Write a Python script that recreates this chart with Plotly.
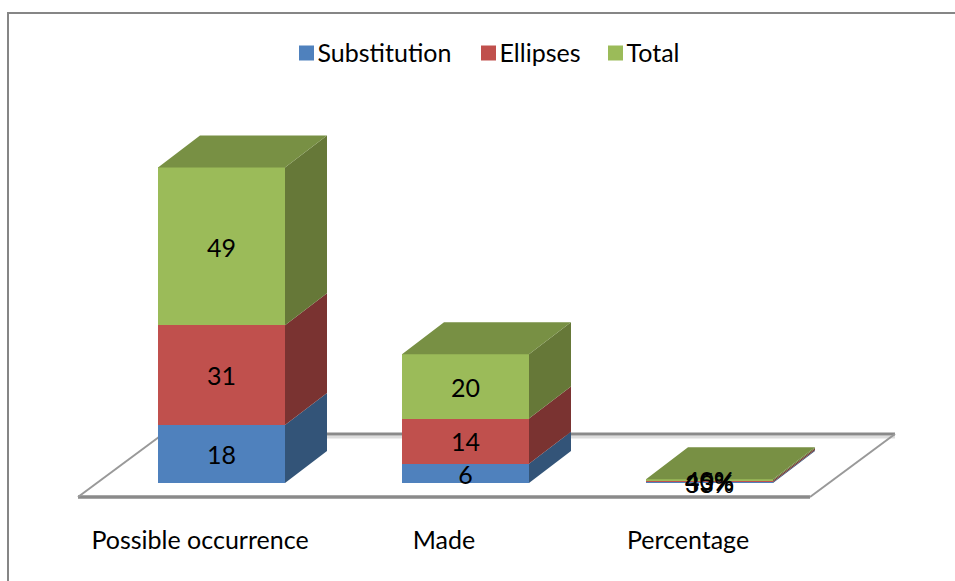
import plotly.graph_objects as go

categories = ["Possible occurrence", "Made", "Percentage"]
substitution = [18, 6, 0.33]
ellipses = [31, 14, 0.45]
total = [49, 20, 0.40]
substitution_labels = ["18", "6", "33%"]
ellipses_labels = ["31", "14", "45%"]
total_labels = ["49", "20", "40%"]

FONT = "Lato"
TEXT_SIZE = 25

# Canvas and axis scales
W, H = 955, 581
BOTTOM_MARGIN = 58
PX_X = 244.0           # pixels per category
PX_Y = 3.22            # pixels per value unit
ZERO_X = 200.0         # pixel of the first category tick
ZERO_Y = 483.0         # pixel of value 0
PLOT_H = H - BOTTOM_MARGIN
TEXT_DROP = 4 / PX_Y   # optical centring of the value labels

x_range = [-ZERO_X / PX_X, (W - ZERO_X) / PX_X]
y_range = [-(PLOT_H - ZERO_Y) / PX_Y, ZERO_Y / PX_Y]


def data_x(px):
    return (px - ZERO_X) / PX_X


def data_y(px):
    return (ZERO_Y - px) / PX_Y


# Oblique projection of the column depth
BAR_W = 127 / PX_X
BAR_SHIFT = 21.5 / PX_X
DX = 42 / PX_X
DY = 32 / PX_Y

positions = list(range(len(categories)))
series = [
    ("Substitution", substitution, substitution_labels, "#4F81BD", "#335478"),
    ("Ellipses", ellipses, ellipses_labels, "#C0504D", "#7A3331"),
    ("Total", total, total_labels, "#9BBB59", "#667838"),
]
TOP_COLOR = "#789044"

fig = go.Figure()

# Front faces
for name, values, labels, front, _ in series:
    fig.add_trace(go.Bar(
        x=positions, y=values, name=name,
        width=BAR_W, offset=BAR_SHIFT - BAR_W / 2,
        marker=dict(color=front, line=dict(width=0)),
        showlegend=False, hoverinfo="skip",
    ))

# Side faces, one polygon per stacked segment
bases = [0.0] * len(categories)
label_traces = []
for name, values, labels, _, side in series:
    xs, ys, mids = [], [], []
    for i, v in enumerate(values):
        right = i + BAR_SHIFT + BAR_W / 2
        low, high = bases[i], bases[i] + v
        xs += [right, right + DX, right + DX, right, right, None]
        ys += [low, low + DY, high + DY, high, low, None]
        mids.append((low + high) / 2 - TEXT_DROP)
        bases[i] = high
    fig.add_trace(go.Scatter(
        x=xs, y=ys, mode="none", fill="toself", fillcolor=side,
        showlegend=False, hoverinfo="skip",
    ))
    label_traces.append(go.Scatter(
        x=[p + BAR_SHIFT for p in positions], y=mids, mode="text", text=labels,
        textposition="middle center",
        textfont=dict(family=FONT, size=TEXT_SIZE, color="black"),
        showlegend=False, hoverinfo="skip",
    ))

# Top faces of the stacks
xs, ys = [], []
for i, top in enumerate(bases):
    left = i + BAR_SHIFT - BAR_W / 2
    right = left + BAR_W
    xs += [left, right, right + DX, left + DX, left, None]
    ys += [top, top, top + DY, top + DY, top, None]
fig.add_trace(go.Scatter(
    x=xs, y=ys, mode="none", fill="toself", fillcolor=TOP_COLOR,
    showlegend=False, hoverinfo="skip",
))

# Value labels sit above every face
fig.add_traces(label_traces)

# Key above the columns: square swatch followed by the series name
key_swatch_px = [306.5, 488.5, 615.5]
for (name, _, _, front, _), px in zip(series, key_swatch_px):
    fig.add_trace(go.Scatter(
        x=[data_x(px)], y=[data_y(53)], mode="markers", name=name,
        marker=dict(symbol="square", size=15, color=front, line=dict(width=0)),
        showlegend=False, hoverinfo="skip",
    ))
    fig.add_trace(go.Scatter(
        x=[data_x(px + 11)], y=[data_y(56)], mode="text", name=name,
        text=[name], textposition="middle right",
        textfont=dict(family=FONT, size=TEXT_SIZE, color="black"),
        showlegend=False, hoverinfo="skip",
    ))

# Floor of the chart, below the columns
fx0, fx1 = data_x(78), data_x(810)
bx0, bx1 = data_x(163), data_x(895)
fy0, fy1 = data_y(497), data_y(434)
sy = data_y(437)
GREY = "#8A8A8A"


def floor_edge(path, color=GREY, width=3):
    return dict(type="path", xref="x", yref="y", layer="below", path=path,
                line=dict(color=color, width=width))


floor_shapes = [
    floor_edge(f"M{bx0},{sy} L{bx1},{sy}", color="#DDDDDD"),
    floor_edge(f"M{fx0},{fy0} L{fx1},{fy0}", width=3.5),
    floor_edge(f"M{bx0},{fy1} L{bx1},{fy1}"),
    floor_edge(f"M{fx0},{fy0} L{bx0},{fy1}", color="#999999", width=2),
    floor_edge(f"M{fx1},{fy0} L{bx1},{fy1}", color="#999999", width=2),
]

# Chart frame: open on the right and at the bottom
frame = dict(
    type="path", xref="paper", yref="paper", layer="below",
    path=f"M{8 / W},{-BOTTOM_MARGIN / PLOT_H} L{8 / W},{1 - 13 / PLOT_H} L1,{1 - 13 / PLOT_H}",
    line=dict(color="#868686", width=2),
)

fig.update_layout(
    width=W, height=H,
    margin=dict(l=0, r=0, t=0, b=BOTTOM_MARGIN),
    paper_bgcolor="white", plot_bgcolor="white",
    barmode="stack",
    font=dict(family=FONT, size=TEXT_SIZE, color="black"),
    shapes=floor_shapes + [frame],
    showlegend=False,
    xaxis=dict(
        range=x_range, tickmode="array", tickvals=positions, ticktext=categories,
        showgrid=False, zeroline=False, showline=False, ticks="", ticklabelstandoff=0,
        tickfont=dict(family=FONT, size=TEXT_SIZE),
    ),
    yaxis=dict(range=y_range, visible=False, showgrid=False, zeroline=False),
)

fig.write_html("out.html")
